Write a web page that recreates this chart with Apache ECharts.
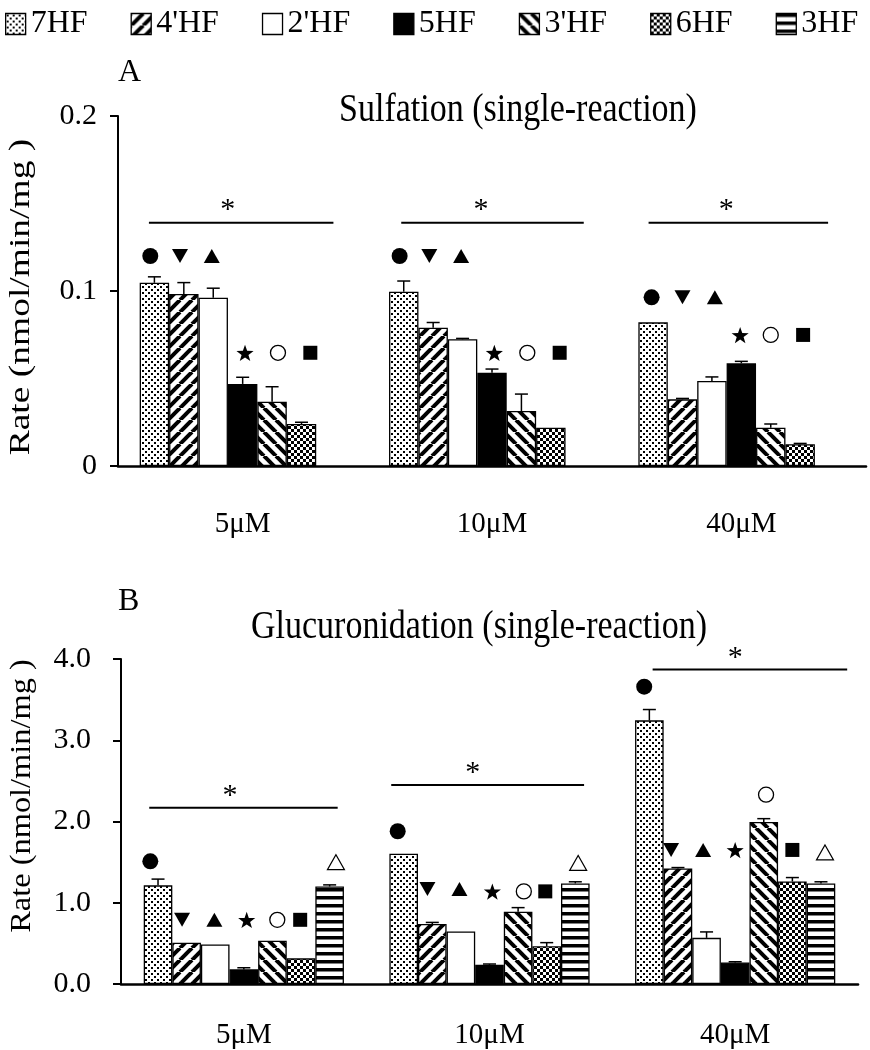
<!DOCTYPE html>
<html>
<head>
<meta charset="utf-8">
<script src="https://cdn.jsdelivr.net/npm/echarts@6/dist/echarts.min.js"></script>
<style>
  html, body { margin: 0; padding: 0; background: #fff; }
  #chart { width: 870px; height: 1050px; }
</style>
</head>
<body>
<div id="chart"></div>
<script>
// categories and compounds
var categories = ['5μM', '10μM', '40μM'];
var compounds = ['7HF', "4'HF", "2'HF", '5HF', "3'HF", '6HF', '3HF'];

// A: sulfation rate (nmol/min/mg), one row per compound, 3HF not measured
var sulf7HF = [0.1047, 0.0996, 0.0821];
var sulf4HF = [0.0983, 0.0790, 0.0381];
var sulf2HF = [0.0962, 0.0724, 0.0486];
var sulf5HF = [0.0469, 0.0533, 0.0587];
var sulf3pHF = [0.0367, 0.0314, 0.0219];
var sulf6HF = [0.0240, 0.0219, 0.0124];
var sulf3HF = [null, null, null];
var sulfErr = [
  [0.0034, 0.0061, 0],
  [0.0065, 0.0030, 0.0005],
  [0.0054, 0.0005, 0.0023],
  [0.0038, 0.0021, 0.0011],
  [0.0086, 0.0097, 0.0021],
  [0.0010, 0, 0.0005],
  [0, 0, 0]
];

// B: glucuronidation rate
var gluc7HF = [1.214, 1.604, 3.245];
var gluc4HF = [0.507, 0.738, 1.423];
var gluc2HF = [0.487, 0.646, 0.568];
var gluc5HF = [0.18, 0.236, 0.264];
var gluc3pHF = [0.532, 0.89, 1.995];
var gluc6HF = [0.316, 0.464, 1.262];
var gluc3HF = [1.20, 1.238, 1.238];
var glucErr = [
  [0.077, 0, 0.133],
  [0, 0.02, 0.01],
  [0, 0, 0.073],
  [0.02, 0.01, 0.01],
  [0, 0.05, 0.04],
  [0, 0.045, 0.048],
  [0.02, 0.02, 0.02]
];

// significance symbols: [category, bar slot, y value, glyph]
var glyphs = ['●', '▼', '▲', '★', '○', '■', '△'];
var sulfMarks = [
  [0, -0.14, 0.12, '●'], [0, 0.87, 0.12, '▼'], [0, 1.95, 0.12, '▲'],
  [0, 3.08, 0.0647, '★'], [0, 4.2, 0.0647, '○'], [0, 5.3, 0.0647, '■'],
  [1, -0.14, 0.12, '●'], [1, 0.87, 0.12, '▼'], [1, 1.95, 0.12, '▲'],
  [1, 3.08, 0.0647, '★'], [1, 4.2, 0.0647, '○'], [1, 5.3, 0.0647, '■'],
  [2, -0.05, 0.0964, '●'], [2, 1.0, 0.0964, '▼'], [2, 2.1, 0.0964, '▲'],
  [2, 2.96, 0.0749, '★'], [2, 4.0, 0.0749, '○'], [2, 5.1, 0.0749, '■']
];
var glucMarks = [
  [0, -0.27, 1.51, '●'], [0, 0.84, 0.79, '▼'], [0, 1.97, 0.79, '▲'], [0, 3.1, 0.79, '★'],
  [0, 4.17, 0.79, '○'], [0, 4.97, 0.79, '■'], [0, 6.22, 1.50, '△'],
  [1, -0.21, 1.88, '●'], [1, 0.83, 1.17, '▼'], [1, 1.95, 1.17, '▲'], [1, 3.1, 1.14, '★'],
  [1, 4.2, 1.14, '○'], [1, 4.95, 1.14, '■'], [1, 6.1, 1.49, '△'],
  [2, -0.18, 3.66, '●'], [2, 0.76, 1.65, '▼'], [2, 1.88, 1.65, '▲'], [2, 3.0, 1.65, '★'],
  [2, 4.08, 2.33, '○'], [2, 5.0, 1.65, '■'], [2, 6.14, 1.62, '△']
];
// "*" lines: [category, line y, start frac, end frac, star frac, star y]
var sulfSig = [[0, 0.139, -0.376, 0.364, -0.06, 0.149], [1, 0.139, -0.364, 0.368, -0.044, 0.149], [2, 0.139, -0.372, 0.348, -0.06, 0.149]];
var glucSig = [[0, 2.17, -0.385, 0.382, -0.056, 2.37], [1, 2.45, -0.40, 0.385, -0.068, 2.66], [2, 3.87, -0.336, 0.456, 0, 4.07]];

var FONT = '"Liberation Serif", "Times New Roman", serif';

// pattern tiles
function makeTile(w, h, paint) {
  var c = document.createElement('canvas');
  c.width = w; c.height = h;
  var g = c.getContext('2d');
  g.fillStyle = '#fff'; g.fillRect(0, 0, w, h);
  g.fillStyle = '#000'; g.strokeStyle = '#000';
  paint(g, w, h);
  return { image: c, repeat: 'repeat' };
}
var fills = [
  makeTile(6, 6, function (g) { g.fillRect(1, 1, 2, 2); g.fillRect(4, 4, 2, 2); }),
  makeTile(12, 12, function (g) {
    g.lineWidth = 4;
    for (var o = -12; o <= 12; o += 12) { g.beginPath(); g.moveTo(o, 12); g.lineTo(o + 12, 0); g.stroke(); }
  }),
  '#fff',
  '#000',
  makeTile(12, 12, function (g) {
    g.lineWidth = 4;
    for (var o = -12; o <= 12; o += 12) { g.beginPath(); g.moveTo(o, 0); g.lineTo(o + 12, 12); g.stroke(); }
  }),
  makeTile(6, 6, function (g) { g.fillRect(0, 0, 3, 3); g.fillRect(3, 3, 3, 3); }),
  makeTile(4, 8, function (g) { g.fillRect(0, 0, 4, 3.5); })
];

var sulfRows = [sulf7HF, sulf4HF, sulf2HF, sulf5HF, sulf3pHF, sulf6HF, sulf3HF];
var glucRows = [gluc7HF, gluc4HF, gluc2HF, gluc5HF, gluc3pHF, gluc6HF, gluc3HF];
var GAP_A = 0.174, GAP_B = 0.185;

function slotX(api, cat, y, slot, gap) {
  var p = api.coord([cat, y]);
  var band = api.size([1, 0])[0];
  var bw = band * (1 - gap) / 7;
  return [p[0] - band * (1 - gap) / 2 + (slot + 0.5) * bw, p[1]];
}

function errRender(gap) {
  return function (params, api) {
    if (!api.value(3)) return null;
    var b = slotX(api, api.value(0), api.value(2), api.value(1), gap);
    var t = api.coord([api.value(0), api.value(2) + api.value(3)]);
    var st = { stroke: '#000', lineWidth: 1.5 };
    return { type: 'group', children: [
      { type: 'line', shape: { x1: b[0], y1: b[1], x2: b[0], y2: t[1] }, style: st },
      { type: 'line', shape: { x1: b[0] - 6.5, y1: t[1], x2: b[0] + 6.5, y2: t[1] }, style: st }
    ] };
  };
}

function starPoints(x, y, R, r) {
  var pts = [];
  for (var i = 0; i < 10; i++) {
    var a = -Math.PI / 2 + i * Math.PI / 5;
    var rr = i % 2 ? r : R;
    pts.push([x + rr * Math.cos(a), y + rr * Math.sin(a) + 1]);
  }
  return pts;
}

function markRender(gap) {
  return function (params, api) {
    var p = slotX(api, api.value(0), api.value(2), api.value(1), gap);
    var x = p[0], y = p[1];
    var k = glyphs[api.value(3)];
    if (k === '●') return { type: 'circle', shape: { cx: x, cy: y, r: 8 }, style: { fill: '#000' } };
    if (k === '○') return { type: 'circle', shape: { cx: x, cy: y, r: 7.5 }, style: { fill: '#fff', stroke: '#000', lineWidth: 1.3 } };
    if (k === '▼') return { type: 'polygon', shape: { points: [[x - 8, y - 7], [x + 8, y - 7], [x, y + 7]] }, style: { fill: '#000' } };
    if (k === '▲') return { type: 'polygon', shape: { points: [[x - 8, y + 7], [x + 8, y + 7], [x, y - 7]] }, style: { fill: '#000' } };
    if (k === '△') return { type: 'polygon', shape: { points: [[x - 8.5, y + 7.5], [x + 8.5, y + 7.5], [x, y - 7.5]] }, style: { fill: '#fff', stroke: '#000', lineWidth: 1.2 } };
    if (k === '■') return { type: 'rect', shape: { x: x - 7, y: y - 7, width: 14, height: 14 }, style: { fill: '#000' } };
    return { type: 'polygon', shape: { points: starPoints(x, y, 9, 3.6) }, style: { fill: '#000' } };
  };
}

function sigRender(params, api) {
  var c = api.coord([api.value(0), api.value(1)]);
  var band = api.size([1, 0])[0];
  var s = api.coord([api.value(0), api.value(5)]);
  return { type: 'group', children: [
    { type: 'line', shape: { x1: c[0] + api.value(2) * band, y1: c[1], x2: c[0] + api.value(3) * band, y2: c[1] },
      style: { stroke: '#000', lineWidth: 2 } },
    { type: 'text', x: c[0] + api.value(4) * band, y: s[1] + 5,
      style: { text: '*', fontSize: 30, fontFamily: FONT, fill: '#000', align: 'center', verticalAlign: 'middle' } }
  ] };
}

function errData(rows, errs) {
  var out = [];
  rows.forEach(function (row, k) {
    row.forEach(function (v, i) { if (v != null) out.push([i, k, v, errs[k][i]]); });
  });
  return out;
}
function markData(marks) {
  return marks.map(function (m) { return [m[0], m[1], m[2], glyphs.indexOf(m[3])]; });
}

var series = [];
compounds.forEach(function (name, k) {
  var common = {
    name: name, type: 'bar', barGap: '0%',
    itemStyle: { color: fills[k], borderColor: '#000', borderWidth: 1.3 },
    emphasis: { disabled: true }
  };
  series.push(Object.assign({}, common, { xAxisIndex: 0, yAxisIndex: 0, barCategoryGap: (GAP_A * 100) + '%', data: sulfRows[k] }));
  series.push(Object.assign({}, common, { xAxisIndex: 1, yAxisIndex: 1, barCategoryGap: (GAP_B * 100) + '%', data: glucRows[k] }));
});
series.push(
  { type: 'custom', xAxisIndex: 0, yAxisIndex: 0, clip: false, z: 5, renderItem: errRender(GAP_A), encode: { x: 0, y: 2 }, data: errData(sulfRows, sulfErr) },
  { type: 'custom', xAxisIndex: 1, yAxisIndex: 1, clip: false, z: 5, renderItem: errRender(GAP_B), encode: { x: 0, y: 2 }, data: errData(glucRows, glucErr) },
  { type: 'custom', xAxisIndex: 0, yAxisIndex: 0, clip: false, z: 5, renderItem: markRender(GAP_A), encode: { x: 0, y: 2 }, data: markData(sulfMarks) },
  { type: 'custom', xAxisIndex: 1, yAxisIndex: 1, clip: false, z: 5, renderItem: markRender(GAP_B), encode: { x: 0, y: 2 }, data: markData(glucMarks) },
  { type: 'custom', xAxisIndex: 0, yAxisIndex: 0, clip: false, z: 5, renderItem: sigRender, encode: { x: 0, y: 1 }, data: sulfSig },
  { type: 'custom', xAxisIndex: 1, yAxisIndex: 1, clip: false, z: 5, renderItem: sigRender, encode: { x: 0, y: 1 }, data: glucSig }
);

function xAxisOpt(grid, margin) {
  return {
    type: 'category', gridIndex: grid, data: categories,
    axisLine: { lineStyle: { color: '#000', width: 2.6 } },
    axisTick: { show: false },
    axisLabel: { color: '#000', fontSize: 29, fontFamily: FONT, margin: margin }
  };
}
function yAxisOpt(grid, max, margin, fmt) {
  return {
    type: 'value', gridIndex: grid, min: 0, max: max, interval: max / 4 * (grid === 0 ? 2 : 1),
    axisLine: { show: true, lineStyle: { color: '#000', width: 2 } },
    axisTick: { show: true, length: 8, lineStyle: { color: '#000', width: 2 } },
    splitLine: { show: false },
    axisLabel: { color: '#000', fontSize: 30, fontFamily: FONT, margin: margin, formatter: fmt }
  };
}

var chart = echarts.init(document.getElementById('chart'), null, { renderer: 'canvas' });
chart.setOption({
  animation: false,
  backgroundColor: '#fff',
  legend: {
    data: compounds, left: 0, top: 3, icon: 'rect', itemWidth: 20, itemHeight: 21, itemGap: 43,
    itemStyle: { borderColor: '#000', borderWidth: 1.3 },
    textStyle: { color: '#000', fontSize: 32, fontFamily: FONT },
    selectedMode: false
  },
  grid: [
    { left: 118, top: 116, width: 748, height: 350 },
    { left: 121, top: 659, width: 737, height: 329 }
  ],
  xAxis: [xAxisOpt(0, 44), xAxisOpt(1, 37)],
  yAxis: [
    yAxisOpt(0, 0.2, 21, function (v) { return v === 0 ? '0' : v.toFixed(1); }),
    yAxisOpt(1, 4, 30, function (v) { return v.toFixed(1); })
  ],
  graphic: [
    { type: 'text', x: 118, y: 73, style: { text: 'A', fontSize: 32, fontFamily: FONT, fill: '#000', verticalAlign: 'middle' } },
    { type: 'text', x: 118, y: 602, style: { text: 'B', fontSize: 32, fontFamily: FONT, fill: '#000', verticalAlign: 'middle' } },
    { type: 'text', x: 518, y: 110, scaleY: 1.2, style: { text: 'Sulfation (single-reaction)', fontSize: 34, fontFamily: FONT, fill: '#000', align: 'center', verticalAlign: 'middle' } },
    { type: 'text', x: 479, y: 627, scaleY: 1.2, style: { text: 'Glucuronidation (single-reaction)', fontSize: 34, fontFamily: FONT, fill: '#000', align: 'center', verticalAlign: 'middle' } },
    { type: 'text', x: 21, y: 297, rotation: Math.PI / 2, scaleX: 1.25, style: { text: 'Rate (nmol/min/mg )', fontSize: 30, fontFamily: FONT, fill: '#000', align: 'center', verticalAlign: 'middle' } },
    { type: 'text', x: 22, y: 796, rotation: Math.PI / 2, scaleX: 1.08, style: { text: 'Rate (nmol/min/mg )', fontSize: 30, fontFamily: FONT, fill: '#000', align: 'center', verticalAlign: 'middle' } }
  ],
  series: series
});
</script>
</body>
</html>
